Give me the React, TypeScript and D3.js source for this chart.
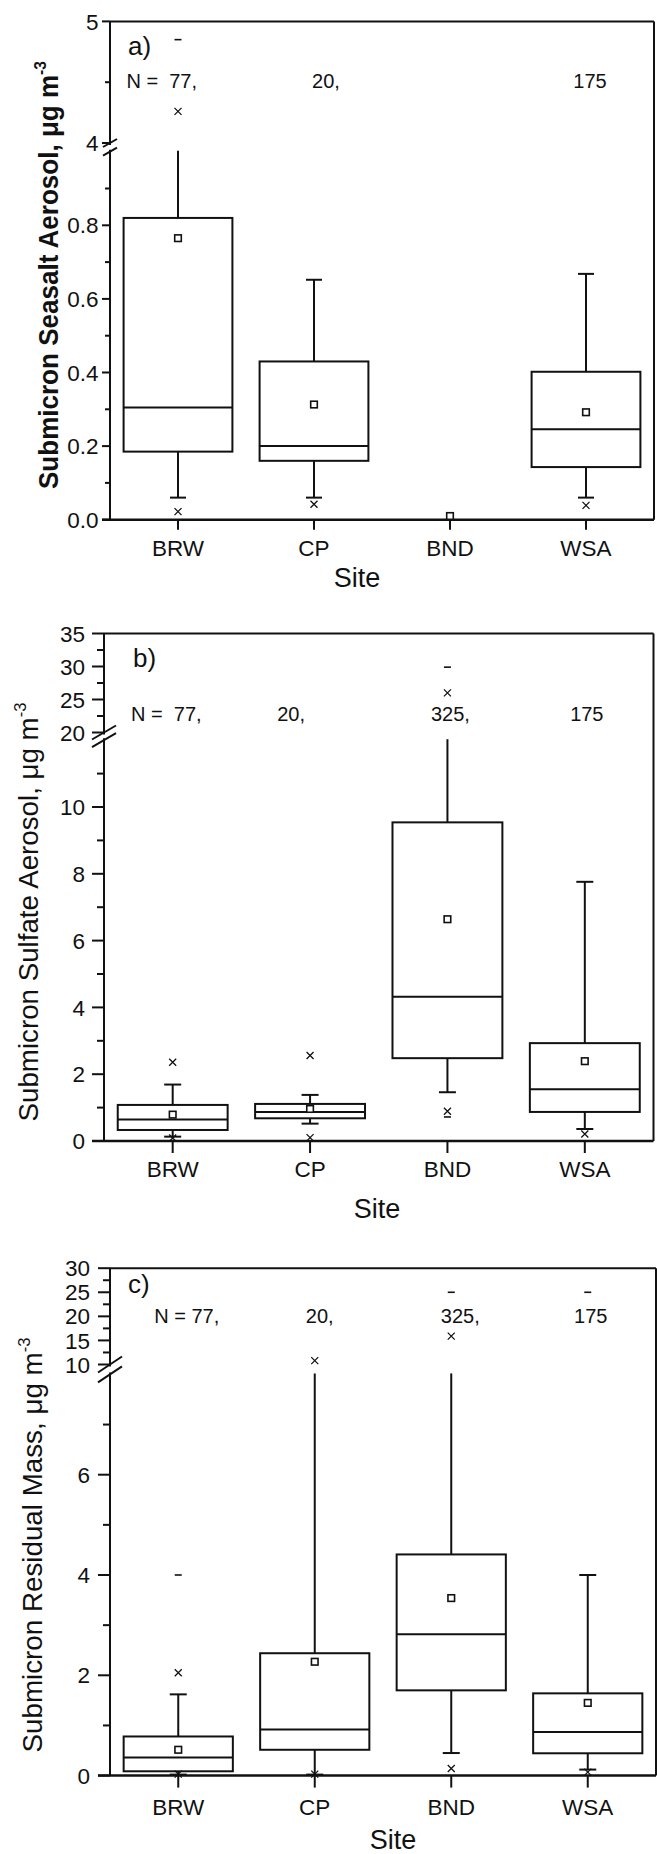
import React from 'react';
import * as d3 from 'd3';

const SITES = ['BRW', 'CP', 'BND', 'WSA'];

type Box = {
  site: string;
  q1?: number;
  median?: number;
  q3?: number;
  lo?: number;
  hi?: number;
  hiCut?: boolean; // whisker runs into the axis break, no cap
  mean?: number;
  crosses: number[];
  dashes: number[];
};

// a) submicron seasalt
const SEASALT: Box[] = [
  { site: 'BRW', q1: 0.185, median: 0.305, q3: 0.82, lo: 0.06, hi: 1.0, hiCut: true, mean: 0.765, crosses: [0.022, 4.26], dashes: [4.85] },
  { site: 'CP', q1: 0.16, median: 0.2, q3: 0.43, lo: 0.06, hi: 0.652, mean: 0.313, crosses: [0.042], dashes: [] },
  { site: 'BND', mean: 0.01, crosses: [], dashes: [] },
  { site: 'WSA', q1: 0.143, median: 0.246, q3: 0.402, lo: 0.06, hi: 0.668, mean: 0.292, crosses: [0.039], dashes: [] },
];

// b) submicron sulfate
const SULFATE: Box[] = [
  { site: 'BRW', q1: 0.33, median: 0.64, q3: 1.08, lo: 0.13, hi: 1.69, mean: 0.79, crosses: [2.36, 0.09], dashes: [] },
  { site: 'CP', q1: 0.68, median: 0.87, q3: 1.11, lo: 0.52, hi: 1.38, mean: 0.96, crosses: [2.56, 0.1], dashes: [] },
  { site: 'BND', q1: 2.48, median: 4.32, q3: 9.54, lo: 1.46, hi: 12, hiCut: true, mean: 6.64, crosses: [0.89, 26], dashes: [0.72, 29.9] },
  { site: 'WSA', q1: 0.87, median: 1.55, q3: 2.93, lo: 0.36, hi: 7.76, mean: 2.39, crosses: [0.21], dashes: [] },
];

// c) submicron residual mass
const RESIDUAL: Box[] = [
  { site: 'BRW', q1: 0.086, median: 0.36, q3: 0.78, lo: 0.02, hi: 1.62, mean: 0.515, crosses: [2.05, 0.03], dashes: [4.0] },
  { site: 'CP', q1: 0.515, median: 0.92, q3: 2.44, lo: 0.02, hi: 8, hiCut: true, mean: 2.27, crosses: [0.03, 10.8], dashes: [] },
  { site: 'BND', q1: 1.7, median: 2.82, q3: 4.41, lo: 0.45, hi: 8, hiCut: true, mean: 3.54, crosses: [0.14, 15.9], dashes: [25] },
  { site: 'WSA', q1: 0.445, median: 0.87, q3: 1.64, lo: 0.12, hi: 4.0, mean: 1.45, crosses: [0.07], dashes: [25] },
];

const N_SEASALT = ['N =  77,', '20,', '', '175'];
const N_SULFATE = ['N =  77,', '20,', '325,', '175'];
const N_RESIDUAL = ['N = 77,', '20,', '325,', '175'];

const SEASALT_TICKS = { lowMajor: [0, 0.2, 0.4, 0.6, 0.8], lowMinor: [0.1, 0.3, 0.5, 0.7, 0.9], upMajor: [4, 5], upMinor: [4.5] };
const SULFATE_TICKS = { lowMajor: [0, 2, 4, 6, 8, 10], lowMinor: [1, 3, 5, 7, 9, 11], upMajor: [20, 25, 30, 35], upMinor: [22.5, 27.5, 32.5] };
const RESIDUAL_TICKS = { lowMajor: [0, 2, 4, 6], lowMinor: [1, 3, 5, 7], upMajor: [10, 15, 20, 25, 30], upMinor: [12.5, 17.5, 22.5, 27.5] };

const FONT = '"Liberation Sans", Arial, Helvetica, sans-serif';

const PANELS = [
  {
    label: 'a)', title: 'Submicron Seasalt Aerosol, μg m', bold: true, data: SEASALT, counts: N_SEASALT, ticks: SEASALT_TICKS,
    fmt: d3.format('.1f'), lowDomain: [0, 1], upDomain: [4, 5],
    axisX: 110, rightX: 654, zeroY: 519.7, lowTopY: 151.7, upBottomY: 143, topY: 21.4,
    major: 8, minor: 5, labelGap: 11.5, cap: 16, slash: [7, 4],
    titleX: 58, titleY: 275, titleLen: 428, titleSize: 27,
    panelXY: [128, 55], nY: 87.5, nOff: [19, 12, 0, 4],
    siteY: 556, xTitleX: 357, xTitleY: 587, xTick: 10,
  },
  {
    label: 'b)', title: 'Submicron Sulfate Aerosol, μg m', bold: false, data: SULFATE, counts: N_SULFATE, ticks: SULFATE_TICKS,
    fmt: d3.format('d'), lowDomain: [0, 12], upDomain: [20, 35],
    axisX: 104, rightX: 653.5, zeroY: 1141, lowTopY: 740.2, upBottomY: 732.5, topY: 633.5,
    major: 12, minor: 7, labelGap: 19, cap: 17, slash: [12, 7],
    titleX: 38, titleY: 912, titleLen: 419, titleSize: 27,
    panelXY: [133, 667], nY: 720.6, nOff: [29, -19, 3, 2],
    siteY: 1177, xTitleX: 377, xTitleY: 1218, xTick: 12,
  },
  {
    label: 'c)', title: 'Submicron Residual Mass, μg m', bold: false, data: RESIDUAL, counts: N_RESIDUAL, ticks: RESIDUAL_TICKS,
    fmt: d3.format('d'), lowDomain: [0, 8], upDomain: [10, 30],
    axisX: 110, rightX: 656, zeroY: 1775.6, lowTopY: 1374.4, upBottomY: 1364.5, topY: 1268.2,
    major: 12, minor: 7, labelGap: 20, cap: 17, slash: [12, 8],
    titleX: 42, titleY: 1545, titleLen: 415, titleSize: 27,
    panelXY: [128, 1293], nY: 1323, nOff: [41, 5, 9, 3],
    siteY: 1815, xTitleX: 393, xTitleY: 1849, xTick: 12,
  },
];

function Panel({ cfg }: { cfg: any }) {
  const x = d3.scaleBand<string>().domain(SITES).range([cfg.axisX, cfg.rightX]).paddingInner(0.2).paddingOuter(0.1);
  const yLow = d3.scaleLinear().domain(cfg.lowDomain).range([cfg.zeroY, cfg.lowTopY]);
  const yUp = d3.scaleLinear().domain(cfg.upDomain).range([cfg.upBottomY, cfg.topY]);
  const y = (v: number) => (v >= cfg.upDomain[0] ? yUp(v) : yLow(Math.min(v, cfg.lowDomain[1])));
  const ax = cfg.axisX;
  const [sw, sh] = cfg.slash;
  const bw = x.bandwidth();

  const tickLabel = (v: number, yy: number, fmt: (n: number) => string) => (
    <text key={'l' + v} x={ax - cfg.labelGap} y={yy} dy="0.36em" textAnchor="end" fontSize={22.5}>
      {fmt(v)}
    </text>
  );

  return (
    <g fontFamily={FONT} fill="#111">
      {/* frame */}
      <line x1={ax} x2={cfg.rightX} y1={cfg.topY} y2={cfg.topY} stroke="#111" strokeWidth={2} />
      <line x1={cfg.rightX} x2={cfg.rightX} y1={cfg.topY} y2={cfg.zeroY} stroke="#111" strokeWidth={2} />
      <line x1={ax - cfg.major} x2={cfg.rightX} y1={cfg.zeroY} y2={cfg.zeroY} stroke="#111" strokeWidth={2.5} />
      {/* broken y axis */}
      <line x1={ax} x2={ax} y1={cfg.topY} y2={cfg.upBottomY + 2} stroke="#111" strokeWidth={2} />
      <line x1={ax} x2={ax} y1={cfg.lowTopY - 2} y2={cfg.zeroY} stroke="#111" strokeWidth={2} />
      {[cfg.upBottomY, cfg.lowTopY].map((yy: number, i: number) => (
        <line key={'s' + i} x1={ax - sw} y1={yy + sh} x2={ax + sw} y2={yy - sh} stroke="#111" strokeWidth={2} />
      ))}
      {/* y ticks */}
      {cfg.ticks.lowMajor.map((v: number) => (
        <line key={'lm' + v} x1={ax - cfg.major} x2={ax} y1={yLow(v)} y2={yLow(v)} stroke="#111" strokeWidth={2} />
      ))}
      {cfg.ticks.lowMinor.map((v: number) => (
        <line key={'ln' + v} x1={ax - cfg.minor} x2={ax} y1={yLow(v)} y2={yLow(v)} stroke="#111" strokeWidth={2} />
      ))}
      {cfg.ticks.upMajor.map((v: number) => (
        <line key={'um' + v} x1={ax - cfg.major} x2={ax} y1={yUp(v)} y2={yUp(v)} stroke="#111" strokeWidth={2} />
      ))}
      {cfg.ticks.upMinor.map((v: number) => (
        <line key={'un' + v} x1={ax - cfg.minor} x2={ax} y1={yUp(v)} y2={yUp(v)} stroke="#111" strokeWidth={2} />
      ))}
      {cfg.ticks.lowMajor.map((v: number) => tickLabel(v, yLow(v), cfg.fmt))}
      {cfg.ticks.upMajor.map((v: number) => tickLabel(v, yUp(v), d3.format('d')))}

      {/* x ticks and labels */}
      {SITES.map((s) => {
        const cx = (x(s) as number) + bw / 2;
        return (
          <g key={'x' + s}>
            <line x1={cx} x2={cx} y1={cfg.zeroY} y2={cfg.zeroY + cfg.xTick} stroke="#111" strokeWidth={2} />
            <text x={cx} y={cfg.siteY} textAnchor="middle" fontSize={22.5}>{s}</text>
          </g>
        );
      })}
      <text x={cfg.xTitleX} y={cfg.xTitleY} textAnchor="middle" fontSize={27}>Site</text>

      {/* y title */}
      <text
        transform={`translate(${cfg.titleX},${cfg.titleY}) rotate(-90)`}
        textAnchor="middle"
        fontSize={cfg.titleSize}
        fontWeight={cfg.bold ? 'bold' : 'normal'}
        textLength={cfg.titleLen}
        lengthAdjust="spacingAndGlyphs"
      >
        {cfg.title}
        <tspan dy="-0.75em" fontSize="0.6em">-3</tspan>
      </text>

      <text x={cfg.panelXY[0]} y={cfg.panelXY[1]} fontSize={26}>{cfg.label}</text>

      {/* N counts */}
      {cfg.counts.map((t: string, i: number) => {
        if (!t) return null;
        const cx = (x(SITES[i]) as number) + bw / 2 + cfg.nOff[i];
        return (
          <text key={'n' + i} x={cx} y={cfg.nY} textAnchor={i === 0 ? 'end' : 'middle'} fontSize={20} style={{ whiteSpace: 'pre' }}>
            {t}
          </text>
        );
      })}

      {/* boxes */}
      {cfg.data.map((d: Box) => {
        const x0 = x(d.site) as number;
        const cx = x0 + bw / 2;
        return (
          <g key={'b' + d.site} stroke="#111" fill="none">
            {d.hi !== undefined && d.q3 !== undefined && (
              <line x1={cx} x2={cx} y1={y(d.q3)} y2={d.hiCut ? y(d.hi) - 1 : y(d.hi)} strokeWidth={2} />
            )}
            {d.hi !== undefined && !d.hiCut && (
              <line x1={cx - cfg.cap / 2} x2={cx + cfg.cap / 2} y1={y(d.hi)} y2={y(d.hi)} strokeWidth={2} />
            )}
            {d.lo !== undefined && d.q1 !== undefined && (
              <>
                <line x1={cx} x2={cx} y1={y(d.q1)} y2={y(d.lo)} strokeWidth={2} />
                <line x1={cx - cfg.cap / 2} x2={cx + cfg.cap / 2} y1={y(d.lo)} y2={y(d.lo)} strokeWidth={2} />
              </>
            )}
            {d.q1 !== undefined && d.q3 !== undefined && (
              <rect x={x0} width={bw} y={y(d.q3)} height={y(d.q1) - y(d.q3)} strokeWidth={2} fill="white" />
            )}
            {d.median !== undefined && (
              <line x1={x0} x2={x0 + bw} y1={y(d.median)} y2={y(d.median)} strokeWidth={2} />
            )}
            {d.mean !== undefined && (
              <rect x={cx - 3.3} y={y(d.mean) - 3.3} width={6.6} height={6.6} strokeWidth={1.6} fill="white" />
            )}
            {d.crosses.map((v, i) => (
              <path key={'c' + i} d={`M${cx - 3.5},${y(v) - 3.5}L${cx + 3.5},${y(v) + 3.5}M${cx - 3.5},${y(v) + 3.5}L${cx + 3.5},${y(v) - 3.5}`} strokeWidth={1.3} />
            ))}
            {d.dashes.map((v, i) => (
              <line key={'d' + i} x1={cx - 3.5} x2={cx + 3.5} y1={y(v)} y2={y(v)} strokeWidth={1.6} />
            ))}
          </g>
        );
      })}
    </g>
  );
}

export default function App() {
  return (
    <svg width={657} height={1854} style={{ position: 'absolute', left: 0, top: 0, background: 'white' }}>
      <rect width={657} height={1854} fill="white" />
      {PANELS.map((p) => (
        <Panel key={p.label} cfg={p} />
      ))}
    </svg>
  );
}
